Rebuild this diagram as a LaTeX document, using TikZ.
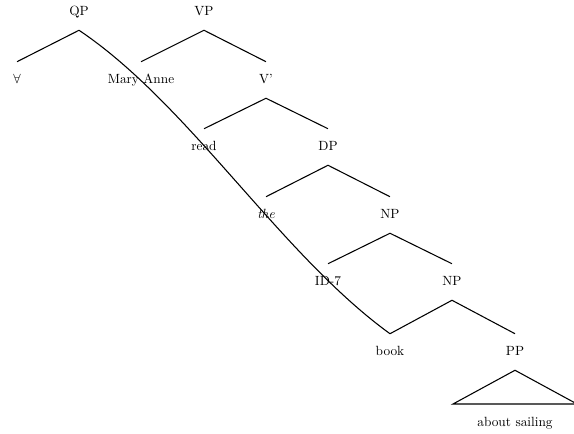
\documentclass[tikz,border=0pt]{standalone}
\usepackage{amssymb}
\usepackage{tikz}
\usetikzlibrary{positioning, calc}
\tikzset{
  lbl/.style={inner sep=0pt, minimum height=27pt, text height=1.5ex,
              text depth=.25ex, font=\normalsize},
  branch/.style={draw=black, line width=0.8pt},
  movement/.style={draw=black, line width=0.8pt},
}

\begin{document}
\begin{tikzpicture}[x=0.75pt, y=-0.75pt]
  \useasboundingbox (0,0) rectangle (574,434);

  % Top row
  \node[lbl] (qp) at (79,12) {QP};
  \node[lbl] (vp) at (204,12) {VP};

  % Second row
  \node[lbl] (forall) at (17,80) {$\forall$};
  \node[lbl] (maryanne) at (141,80) {Mary Anne};
  \node[lbl] (vbar) at (266,80) {V'};

  % Lower rows
  \node[lbl] (read) at (204,147) {read};
  \node[lbl] (dp) at (328,147) {DP};
  \node[lbl] (the) at (266,215) {\textit{the}};
  \node[lbl] (np1) at (390,215) {NP};
  \node[lbl] (id7) at (328,282) {ID-7};
  \node[lbl] (np2) at (452,282) {NP};
  \node[lbl] (book) at (390,352) {book};
  \node[lbl] (pp) at (515,352) {PP};

  % Bottom node
  \node[lbl] (sailing) at (515,423) {about sailing};
  \coordinate (tl) at (453,404);
  \coordinate (tr) at (577,404);

  % Branches
  \draw[branch] (forall.north) -- (qp.south);
  \draw[branch] (maryanne.north) -- (vp.south) -- (vbar.north);
  \draw[branch] (read.north) -- (vbar.south) -- (dp.north);
  \draw[branch] (the.north) -- (dp.south) -- (np1.north);
  \draw[branch] (id7.north) -- (np1.south) -- (np2.north);
  \draw[branch] (book.north) -- (np2.south) -- (pp.north);
  \draw[branch] (pp.south) -- (tl) -- (tr) -- cycle;

  % Curve from QP
  \draw[movement] (qp.south) .. controls (189,104) and (280,254) .. (book.north);
\end{tikzpicture}
\end{document}
